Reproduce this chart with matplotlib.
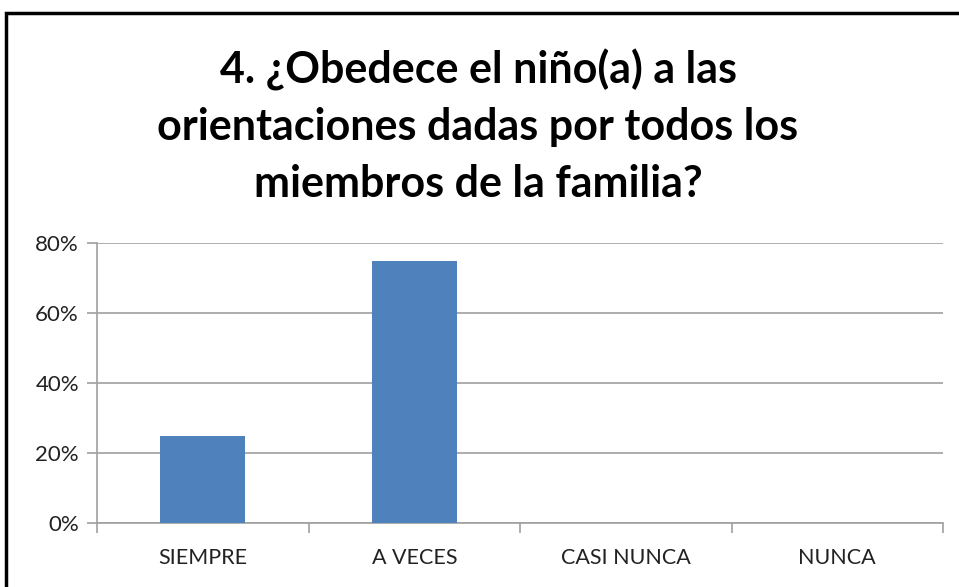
import matplotlib.pyplot as plt
from matplotlib.patches import Rectangle

# Datos de la encuesta
categorias = ["SIEMPRE", "A VECES", "CASI NUNCA", "NUNCA"]
porcentajes = [25, 75, 0, 0]
y_ticks = [0, 20, 40, 60, 80]
titulo = "4. ¿Obedece el niño(a) a las\norientaciones dadas por todos los\nmiembros de la familia?"

plt.rcParams['font.family'] = ['Lato', 'DejaVu Sans']

fig = plt.figure(figsize=(9.59, 5.87), dpi=100)
W, H = 959, 587

# marco negro del grafico
fig.patches.append(Rectangle((6 / W, -0.1), 1.2, 1.1 - 13 / H, transform=fig.transFigure,
                             fill=False, edgecolor='black', linewidth=2.5))

ax = fig.add_axes([97 / W, 1 - 523 / H, (943 - 97) / W, (523 - 243) / H])
x = range(len(categorias))
ax.bar(x, porcentajes, width=0.4, color='#4F81BD', zorder=3)

ax.set_xlim(-0.5, len(categorias) - 0.5)
ax.set_ylim(0, 80)
ax.set_yticks(y_ticks)
ax.set_yticklabels([f"{v}%" for v in y_ticks], fontsize=16, color='#222222')
ax.yaxis.grid(True, color='#A0A0A0', linewidth=1.2, zorder=0)
ax.tick_params(axis='y', length=7, color='#A0A0A0', width=1.2, pad=6)

ax.set_xticks([i - 0.5 for i in range(len(categorias) + 1)], minor=False)
ax.set_xticklabels([])
ax.set_xticks(list(x), minor=True)
ax.set_xticklabels(categorias, minor=True, fontsize=15.5, color='#222222')
ax.tick_params(axis='x', which='major', length=7, color='#A0A0A0', width=1.2)
ax.tick_params(axis='x', which='minor', length=0, pad=18)

for s in ['top', 'right']:
    ax.spines[s].set_visible(False)
for s in ['left', 'bottom']:
    ax.spines[s].set_color('#A0A0A0')
    ax.spines[s].set_linewidth(1.2)

fig.text(478 / W, 1 - 126 / H, titulo, ha='center', va='center', fontsize=31,
         fontweight='bold', linespacing=1.5, color='black')

fig.savefig('out.png', dpi=100)
